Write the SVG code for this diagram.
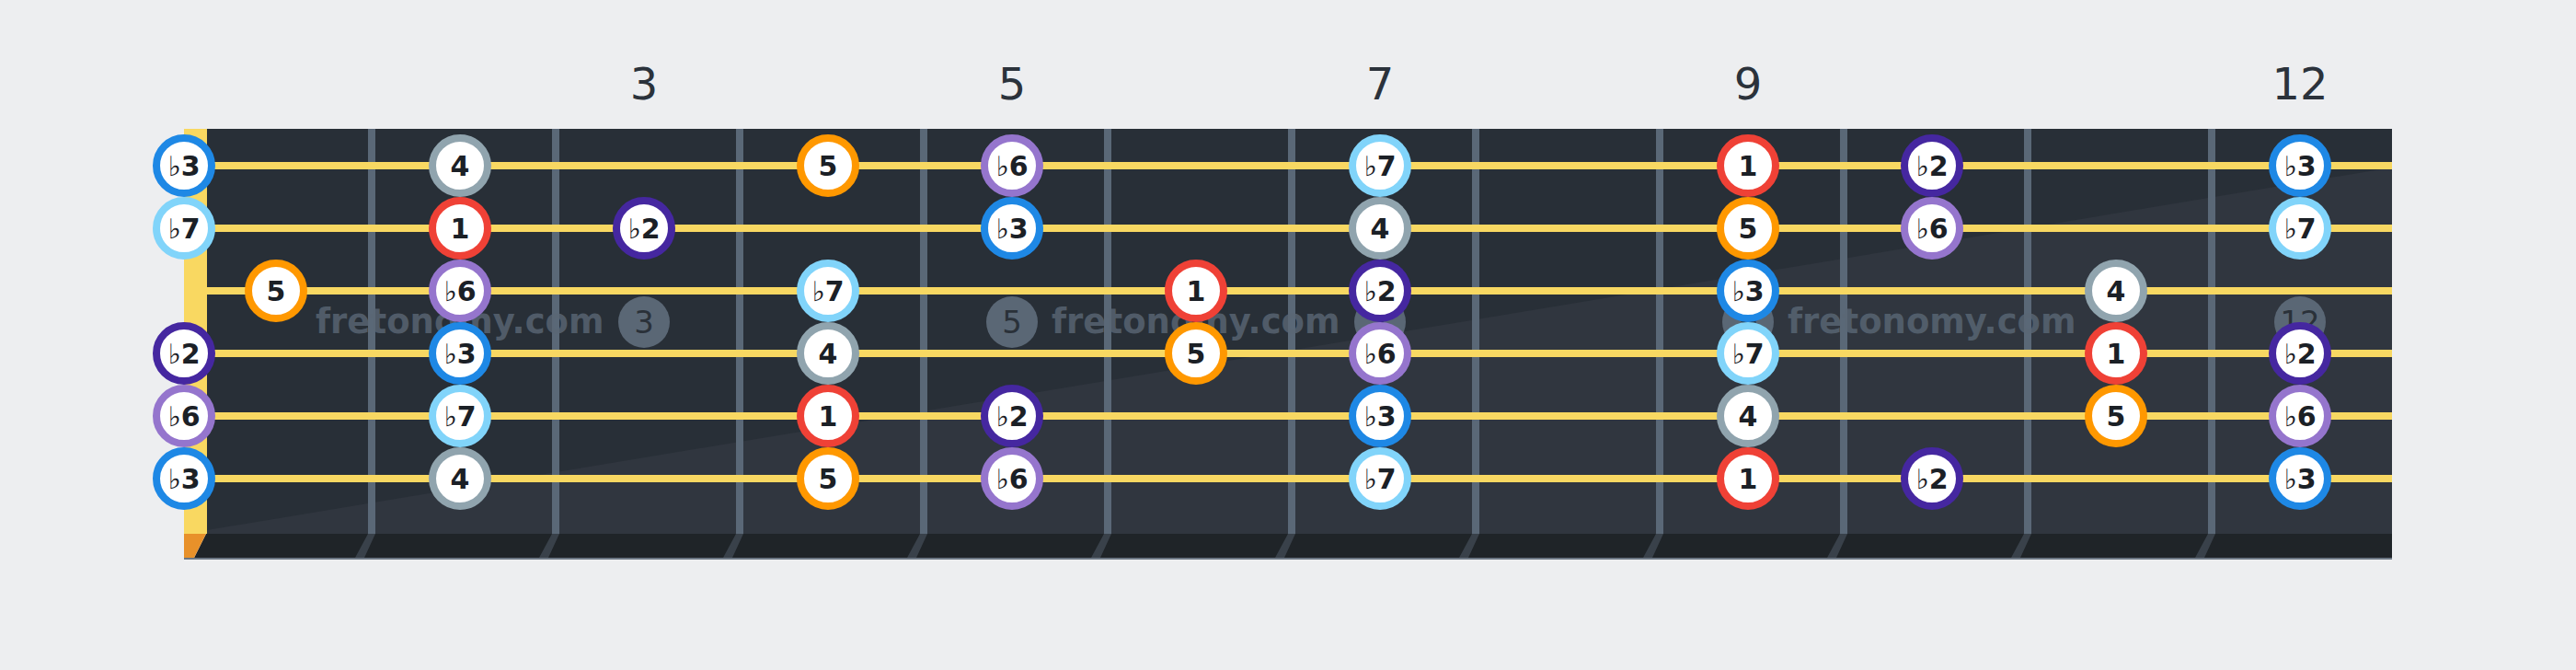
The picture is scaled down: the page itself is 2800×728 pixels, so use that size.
<svg xmlns="http://www.w3.org/2000/svg" width="2800" height="728" viewBox="0 0 2800 728">
<style>
.lbl{font-family:"DejaVu Sans","Liberation Sans",sans-serif;font-size:48px;fill:#2b323b;text-anchor:middle}
.wire{fill:#5a6877}
.wfoot{fill:#4b5560;opacity:.6}
.str{stroke:#f8d862;stroke-width:8}
.inlay circle{fill:#5a6775}
.inlay text{font-family:"DejaVu Sans","Liberation Sans",sans-serif;font-size:34px;fill:#2a3139;text-anchor:middle}
.wm{font-family:"DejaVu Sans","Liberation Sans",sans-serif;font-weight:bold;font-size:37px;fill:#5a6775;opacity:.8}
.note circle{fill:#fff;stroke-width:8}
.note text{font-family:"DejaVu Sans","Liberation Sans",sans-serif;font-weight:bold;font-size:30px;fill:#1b2026;text-anchor:middle}
.note tspan{font-weight:normal}
.i1 circle{stroke:#ef4136}
.i2 circle{stroke:#4527a0}
.i3 circle{stroke:#1e88e5}
.i4 circle{stroke:#90a4ae}
.i5 circle{stroke:#ff9800}
.i6 circle{stroke:#9575cd}
.i7 circle{stroke:#81d4fa}
</style>
<rect width="2800" height="728" fill="#edeef0"/>
<g id="fret-labels">
<text class="lbl" x="700" y="108">3</text>
<text class="lbl" x="1100" y="108">5</text>
<text class="lbl" x="1500" y="108">7</text>
<text class="lbl" x="1900" y="108">9</text>
<text class="lbl" x="2500" y="108">12</text>
</g>
<g id="board">
<rect x="225" y="140" width="2375" height="440" fill="#282f37"/>
<polygon points="225,576 2600,182 2600,580 225,580" fill="#30363f"/>
<rect x="200" y="140" width="25" height="440" fill="#f9d861"/>
<polygon points="224,580 2600,580 2600,606 211,606" fill="#1f2428"/>
<polygon points="200,580 224,580 210,608 200,608" fill="#e8912a"/>
<rect x="200" y="606" width="2400" height="2" fill="#6c7784"/>
</g>
<g id="frets">
<rect class="wire" x="400" y="140" width="8" height="440"/>
<rect class="wire" x="600" y="140" width="8" height="440"/>
<rect class="wire" x="800" y="140" width="8" height="440"/>
<rect class="wire" x="1000" y="140" width="8" height="440"/>
<rect class="wire" x="1200" y="140" width="8" height="440"/>
<rect class="wire" x="1400" y="140" width="8" height="440"/>
<rect class="wire" x="1600" y="140" width="8" height="440"/>
<rect class="wire" x="1800" y="140" width="8" height="440"/>
<rect class="wire" x="2000" y="140" width="8" height="440"/>
<rect class="wire" x="2200" y="140" width="8" height="440"/>
<rect class="wire" x="2400" y="140" width="8" height="440"/>
<polygon class="wfoot" points="400,580 408,580 396,606 386,606"/>
<polygon class="wfoot" points="600,580 608,580 596,606 586,606"/>
<polygon class="wfoot" points="800,580 808,580 796,606 786,606"/>
<polygon class="wfoot" points="1000,580 1008,580 996,606 986,606"/>
<polygon class="wfoot" points="1200,580 1208,580 1196,606 1186,606"/>
<polygon class="wfoot" points="1400,580 1408,580 1396,606 1386,606"/>
<polygon class="wfoot" points="1600,580 1608,580 1596,606 1586,606"/>
<polygon class="wfoot" points="1800,580 1808,580 1796,606 1786,606"/>
<polygon class="wfoot" points="2000,580 2008,580 1996,606 1986,606"/>
<polygon class="wfoot" points="2200,580 2208,580 2196,606 2186,606"/>
<polygon class="wfoot" points="2400,580 2408,580 2396,606 2386,606"/>
</g>
<g id="inlays" class="inlay">
<circle cx="700" cy="350" r="28"/><text x="700" y="362">3</text>
<circle cx="1100" cy="350" r="28"/><text x="1100" y="362">5</text>
<circle cx="1500" cy="350" r="28"/><text x="1500" y="362">7</text>
<circle cx="1900" cy="350" r="28"/><text x="1900" y="362">9</text>
<circle cx="2500" cy="350" r="28"/><text x="2500" y="362">12</text>
</g>
<g id="watermarks">
<text class="wm" x="343" y="362">fretonomy.com</text>
<text class="wm" x="1143" y="362">fretonomy.com</text>
<text class="wm" x="1943" y="362">fretonomy.com</text>
</g>
<g id="strings">
<line class="str" x1="225" y1="180" x2="2600" y2="180"/>
<line class="str" x1="225" y1="248" x2="2600" y2="248"/>
<line class="str" x1="225" y1="316" x2="2600" y2="316"/>
<line class="str" x1="225" y1="384" x2="2600" y2="384"/>
<line class="str" x1="225" y1="452" x2="2600" y2="452"/>
<line class="str" x1="225" y1="520" x2="2600" y2="520"/>
</g>
<g id="notes">
<!-- string 1 -->
<g id="n1-0" class="note i3"><circle cx="200" cy="180" r="30"/><text x="200" y="191"><tspan>♭</tspan>3</text></g>
<g id="n1-2" class="note i4"><circle cx="500" cy="180" r="30"/><text x="500" y="191">4</text></g>
<g id="n1-4" class="note i5"><circle cx="900" cy="180" r="30"/><text x="900" y="191">5</text></g>
<g id="n1-5" class="note i6"><circle cx="1100" cy="180" r="30"/><text x="1100" y="191"><tspan>♭</tspan>6</text></g>
<g id="n1-7" class="note i7"><circle cx="1500" cy="180" r="30"/><text x="1500" y="191"><tspan>♭</tspan>7</text></g>
<g id="n1-9" class="note i1"><circle cx="1900" cy="180" r="30"/><text x="1900" y="191">1</text></g>
<g id="n1-10" class="note i2"><circle cx="2100" cy="180" r="30"/><text x="2100" y="191"><tspan>♭</tspan>2</text></g>
<g id="n1-12" class="note i3"><circle cx="2500" cy="180" r="30"/><text x="2500" y="191"><tspan>♭</tspan>3</text></g>
<!-- string 2 -->
<g id="n2-0" class="note i7"><circle cx="200" cy="248" r="30"/><text x="200" y="259"><tspan>♭</tspan>7</text></g>
<g id="n2-2" class="note i1"><circle cx="500" cy="248" r="30"/><text x="500" y="259">1</text></g>
<g id="n2-3" class="note i2"><circle cx="700" cy="248" r="30"/><text x="700" y="259"><tspan>♭</tspan>2</text></g>
<g id="n2-5" class="note i3"><circle cx="1100" cy="248" r="30"/><text x="1100" y="259"><tspan>♭</tspan>3</text></g>
<g id="n2-7" class="note i4"><circle cx="1500" cy="248" r="30"/><text x="1500" y="259">4</text></g>
<g id="n2-9" class="note i5"><circle cx="1900" cy="248" r="30"/><text x="1900" y="259">5</text></g>
<g id="n2-10" class="note i6"><circle cx="2100" cy="248" r="30"/><text x="2100" y="259"><tspan>♭</tspan>6</text></g>
<g id="n2-12" class="note i7"><circle cx="2500" cy="248" r="30"/><text x="2500" y="259"><tspan>♭</tspan>7</text></g>
<!-- string 3 -->
<g id="n3-1" class="note i5"><circle cx="300" cy="316" r="30"/><text x="300" y="327">5</text></g>
<g id="n3-2" class="note i6"><circle cx="500" cy="316" r="30"/><text x="500" y="327"><tspan>♭</tspan>6</text></g>
<g id="n3-4" class="note i7"><circle cx="900" cy="316" r="30"/><text x="900" y="327"><tspan>♭</tspan>7</text></g>
<g id="n3-6" class="note i1"><circle cx="1300" cy="316" r="30"/><text x="1300" y="327">1</text></g>
<g id="n3-7" class="note i2"><circle cx="1500" cy="316" r="30"/><text x="1500" y="327"><tspan>♭</tspan>2</text></g>
<g id="n3-9" class="note i3"><circle cx="1900" cy="316" r="30"/><text x="1900" y="327"><tspan>♭</tspan>3</text></g>
<g id="n3-11" class="note i4"><circle cx="2300" cy="316" r="30"/><text x="2300" y="327">4</text></g>
<!-- string 4 -->
<g id="n4-0" class="note i2"><circle cx="200" cy="384" r="30"/><text x="200" y="395"><tspan>♭</tspan>2</text></g>
<g id="n4-2" class="note i3"><circle cx="500" cy="384" r="30"/><text x="500" y="395"><tspan>♭</tspan>3</text></g>
<g id="n4-4" class="note i4"><circle cx="900" cy="384" r="30"/><text x="900" y="395">4</text></g>
<g id="n4-6" class="note i5"><circle cx="1300" cy="384" r="30"/><text x="1300" y="395">5</text></g>
<g id="n4-7" class="note i6"><circle cx="1500" cy="384" r="30"/><text x="1500" y="395"><tspan>♭</tspan>6</text></g>
<g id="n4-9" class="note i7"><circle cx="1900" cy="384" r="30"/><text x="1900" y="395"><tspan>♭</tspan>7</text></g>
<g id="n4-11" class="note i1"><circle cx="2300" cy="384" r="30"/><text x="2300" y="395">1</text></g>
<g id="n4-12" class="note i2"><circle cx="2500" cy="384" r="30"/><text x="2500" y="395"><tspan>♭</tspan>2</text></g>
<!-- string 5 -->
<g id="n5-0" class="note i6"><circle cx="200" cy="452" r="30"/><text x="200" y="463"><tspan>♭</tspan>6</text></g>
<g id="n5-2" class="note i7"><circle cx="500" cy="452" r="30"/><text x="500" y="463"><tspan>♭</tspan>7</text></g>
<g id="n5-4" class="note i1"><circle cx="900" cy="452" r="30"/><text x="900" y="463">1</text></g>
<g id="n5-5" class="note i2"><circle cx="1100" cy="452" r="30"/><text x="1100" y="463"><tspan>♭</tspan>2</text></g>
<g id="n5-7" class="note i3"><circle cx="1500" cy="452" r="30"/><text x="1500" y="463"><tspan>♭</tspan>3</text></g>
<g id="n5-9" class="note i4"><circle cx="1900" cy="452" r="30"/><text x="1900" y="463">4</text></g>
<g id="n5-11" class="note i5"><circle cx="2300" cy="452" r="30"/><text x="2300" y="463">5</text></g>
<g id="n5-12" class="note i6"><circle cx="2500" cy="452" r="30"/><text x="2500" y="463"><tspan>♭</tspan>6</text></g>
<!-- string 6 -->
<g id="n6-0" class="note i3"><circle cx="200" cy="520" r="30"/><text x="200" y="531"><tspan>♭</tspan>3</text></g>
<g id="n6-2" class="note i4"><circle cx="500" cy="520" r="30"/><text x="500" y="531">4</text></g>
<g id="n6-4" class="note i5"><circle cx="900" cy="520" r="30"/><text x="900" y="531">5</text></g>
<g id="n6-5" class="note i6"><circle cx="1100" cy="520" r="30"/><text x="1100" y="531"><tspan>♭</tspan>6</text></g>
<g id="n6-7" class="note i7"><circle cx="1500" cy="520" r="30"/><text x="1500" y="531"><tspan>♭</tspan>7</text></g>
<g id="n6-9" class="note i1"><circle cx="1900" cy="520" r="30"/><text x="1900" y="531">1</text></g>
<g id="n6-10" class="note i2"><circle cx="2100" cy="520" r="30"/><text x="2100" y="531"><tspan>♭</tspan>2</text></g>
<g id="n6-12" class="note i3"><circle cx="2500" cy="520" r="30"/><text x="2500" y="531"><tspan>♭</tspan>3</text></g>
</g>
</svg>
